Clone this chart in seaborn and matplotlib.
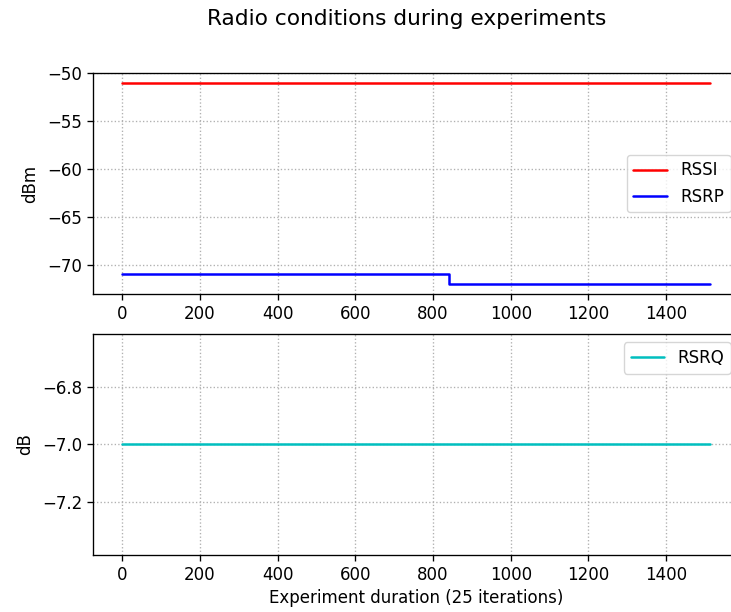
import numpy as np
import pandas as pd
import matplotlib
matplotlib.use("Agg")
import matplotlib.pyplot as plt
import seaborn as sns

# ---- data ----
duration_end = 1512
rssi_x = [0, duration_end]
rssi_y = [-51, -51]

rsrp_x = [0, 841, 841, duration_end]
rsrp_y = [-71, -71, -72, -72]

rsrq_x = [0, duration_end]
rsrq_y = [-7, -7]

sns.set_style("ticks", rc={
    "axes.edgecolor": "black",
    "axes.labelcolor": "black",
    "text.color": "black",
    "xtick.color": "black",
    "ytick.color": "black",
})
plt.rcParams['font.family'] = ['DejaVu Sans']
plt.rcParams['xtick.major.size'] = 4.2
plt.rcParams['ytick.major.size'] = 4.2
plt.rcParams['xtick.major.width'] = 0.96
plt.rcParams['ytick.major.width'] = 0.96

# small offset so 7.31 in * 100 dpi rounds to 731 px, not 730
fig, (ax1, ax2) = plt.subplots(2, 1, figsize=(7.3101, 6.1201), dpi=100)
fig.subplots_adjust(left=93/731, right=739/731, top=1-73/612, bottom=1-555/612, hspace=0.18)

df_rssi = pd.DataFrame({"x": rssi_x, "y": rssi_y})
df_rsrp = pd.DataFrame({"x": rsrp_x, "y": rsrp_y})
df_rsrq = pd.DataFrame({"x": rsrq_x, "y": rsrq_y})

lw = 1.8
sns.lineplot(data=df_rssi, x="x", y="y", ax=ax1, color="r", label="RSSI",
             estimator=None, sort=False, linewidth=lw)
sns.lineplot(data=df_rsrp, x="x", y="y", ax=ax1, color="b", label="RSRP",
             estimator=None, sort=False, linewidth=lw)
sns.lineplot(data=df_rsrq, x="x", y="y", ax=ax2, color="c", label="RSRQ",
             estimator=None, sort=False, linewidth=lw)

for ax in (ax1, ax2):
    ax.grid(True, linestyle=':', color='#b0b0b0', linewidth=0.96)
    ax.set_xlabel("")
    ax.tick_params(labelsize=12)
    for sp in ax.spines.values():
        sp.set_visible(True)
        sp.set_linewidth(0.96)

ax1.set_ylabel("dBm", fontsize=12, labelpad=6)
ax2.set_ylabel("dB", fontsize=12, labelpad=6)
ax2.set_xlabel("Experiment duration (25 iterations)", fontsize=12)
ax1.legend(loc="center right", fontsize=12)
ax2.legend(loc="upper right", fontsize=12)

fig.suptitle("Radio conditions during experiments", fontsize=15.6,
             x=407/731, y=0.985)

fig.savefig("out.png", dpi=100)
